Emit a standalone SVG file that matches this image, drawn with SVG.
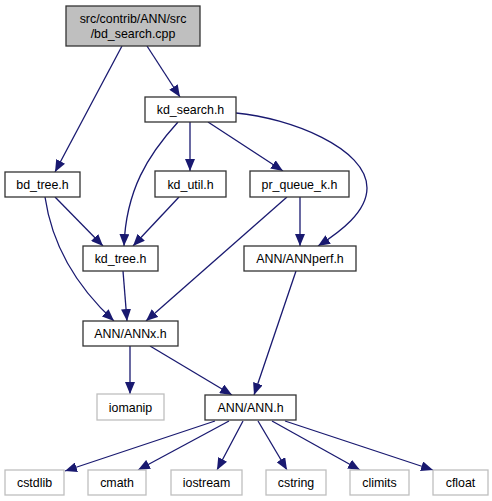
<svg xmlns="http://www.w3.org/2000/svg" width="492" height="501" viewBox="0 0 492 501">
<style>
  .n rect { fill: #ffffff; stroke: #333333; stroke-width: 1.3; }
  .n.g rect { stroke: #bfbfbf; }
  .n.root rect { fill: #bfbfbf; }
  .n text { font-family: "Liberation Sans", Arial, sans-serif; font-size: 12.4px; fill: #000000; text-anchor: middle; }
  #edges path { fill: none; stroke: #191970; stroke-width: 1.3; marker-end: url(#arr); }
</style>
<defs>
  <marker id="arr" viewBox="0 0 12 10" refX="12" refY="5" markerWidth="12" markerHeight="10" markerUnits="userSpaceOnUse" orient="auto">
    <path d="M0,0 L12,5 L0,10 z" fill="#191970" stroke="none"/>
  </marker>
</defs>
<rect width="492" height="501" fill="#ffffff"/>
<g id="edges">
  <path d="M122,46 L55,172"/>
  <path d="M147,46 L180,97"/>
  <path d="M178,122 C148,155 126,190 124,246"/>
  <path d="M190,122 L190,171"/>
  <path d="M208,122 L283,171"/>
  <path d="M236,113 C290,118 367,148 367,188 C367,212 340,232 318,246"/>
  <path d="M179,197 L133,246"/>
  <path d="M55,197 L103,246"/>
  <path d="M45,197 C52,245 75,285 114,321"/>
  <path d="M123,271 L127,321"/>
  <path d="M287,197 L146,321"/>
  <path d="M300,197 L300,246"/>
  <path d="M130,346 L130,394"/>
  <path d="M150,346 L232,395"/>
  <path d="M296,271 L254,395"/>
  <path d="M215,421 L65,471"/>
  <path d="M229,421 L138,470"/>
  <path d="M243,421 L217,470"/>
  <path d="M258,421 L287,470"/>
  <path d="M272,421 L360,470"/>
  <path d="M285,421 L433,470"/>
</g>
<g id="node_root" class="n root">
  <rect x="66" y="6" width="134" height="40"/>
  <text x="133" y="23">src/contrib/ANN/src</text>
  <text x="133" y="37.5">/bd_search.cpp</text>
</g>
<g id="node_kd_search" class="n">
  <rect x="145" y="97" width="91" height="25"/>
  <text x="190.5" y="114">kd_search.h</text>
</g>
<g id="node_bd_tree" class="n">
  <rect x="5" y="172" width="75" height="25"/>
  <text x="42.5" y="189">bd_tree.h</text>
</g>
<g id="node_kd_util" class="n">
  <rect x="155" y="171" width="71" height="26"/>
  <text x="190.5" y="188.5">kd_util.h</text>
</g>
<g id="node_pr_queue_k" class="n">
  <rect x="250" y="171" width="99" height="26"/>
  <text x="299.5" y="188.5">pr_queue_k.h</text>
</g>
<g id="node_kd_tree" class="n">
  <rect x="83" y="246" width="75" height="25"/>
  <text x="120.5" y="263">kd_tree.h</text>
</g>
<g id="node_ANNperf" class="n">
  <rect x="244" y="246" width="112" height="25"/>
  <text x="300" y="263">ANN/ANNperf.h</text>
</g>
<g id="node_ANNx" class="n">
  <rect x="83" y="321" width="95" height="25"/>
  <text x="130.5" y="338">ANN/ANNx.h</text>
</g>
<g id="node_iomanip" class="n g">
  <rect x="97" y="394" width="67" height="26"/>
  <text x="130.5" y="411.5">iomanip</text>
</g>
<g id="node_ANN" class="n">
  <rect x="205" y="395" width="91" height="25"/>
  <text x="250.5" y="412">ANN/ANN.h</text>
</g>
<g id="node_cstdlib" class="n g">
  <rect x="5" y="470" width="59" height="25"/>
  <text x="34.5" y="487">cstdlib</text>
</g>
<g id="node_cmath" class="n g">
  <rect x="88" y="470" width="58" height="25"/>
  <text x="117" y="487">cmath</text>
</g>
<g id="node_iostream" class="n g">
  <rect x="171" y="470" width="71" height="25"/>
  <text x="206.5" y="487">iostream</text>
</g>
<g id="node_cstring" class="n g">
  <rect x="266" y="470" width="60" height="25"/>
  <text x="296" y="487">cstring</text>
</g>
<g id="node_climits" class="n g">
  <rect x="350" y="470" width="59" height="25"/>
  <text x="379.5" y="487">climits</text>
</g>
<g id="node_cfloat" class="n g">
  <rect x="433" y="470" width="55" height="25"/>
  <text x="460.5" y="487">cfloat</text>
</g>
</svg>
